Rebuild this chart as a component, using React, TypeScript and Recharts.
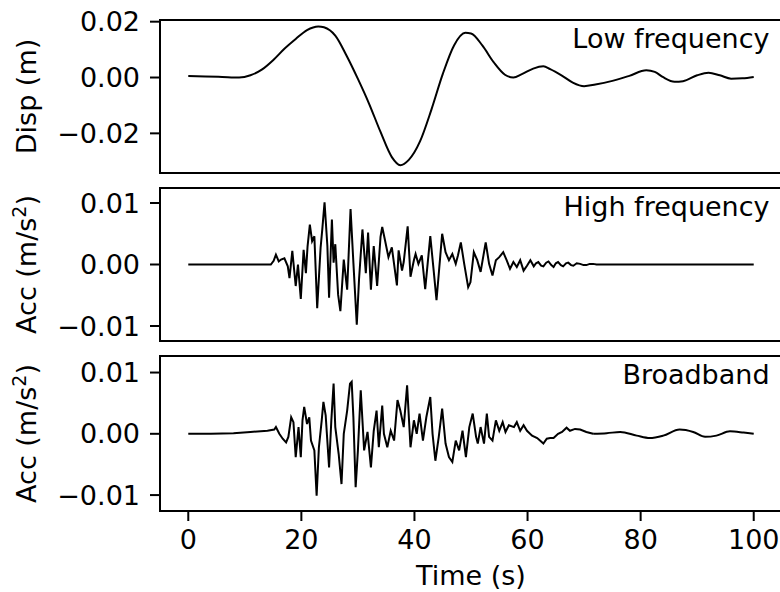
import React from 'react';
import { LineChart, Line, XAxis, YAxis, ReferenceArea, Label } from 'recharts';

const FONT = '"DejaVu Sans", "Liberation Sans", sans-serif';

// ---- data ----
const timeTicks = [0, 20, 40, 60, 80, 100];
const dispTicks = [-0.02, 0, 0.02];
const accTicks = [-0.01, 0, 0.01];
const panelLabels = ['Low frequency', 'High frequency', 'Broadband'];

const dispTime = [0, 3, 6, 9, 11, 13, 15, 17, 19, 21, 23, 24, 26, 28, 30, 32, 34, 36, 37.5, 39, 41, 43, 45, 47, 49, 50, 52, 54, 56, 57.5, 59, 61, 62.8, 64, 66, 68, 70, 72, 75, 78, 81, 82.5, 84, 86, 87.5, 90, 92, 94, 96, 98, 100];
const dispValue = [0.0005, 0.0004, 0.0002, 0.0, 0.0008, 0.0028, 0.0062, 0.0103, 0.0138, 0.0170, 0.0183, 0.0180, 0.0150, 0.0078, -0.0005, -0.0095, -0.0195, -0.0285, -0.0314, -0.0295, -0.0228, -0.0115, 0.0012, 0.0115, 0.0160, 0.0158, 0.0115, 0.0055, 0.0010, 0.0, 0.0012, 0.0032, 0.0040, 0.0030, 0.0008, -0.0018, -0.0031, -0.0025, -0.0012, 0.0006, 0.0026, 0.0020, 0.0001, -0.0015, -0.0013, 0.0008, 0.0017, 0.0008, -0.0004, -0.0003, 0.0002];

const hfTime = [0, 14.6, 15.1, 15.5, 16.0, 16.4, 17.0, 17.6, 17.9, 18.4, 19.0, 19.4, 19.9, 20.4, 20.8, 21.1, 21.5, 21.9, 22.3, 22.8, 23.4, 23.7, 24.1, 24.6, 24.9, 25.4, 25.7, 26.0, 26.5, 26.9, 27.5, 28.1, 28.7, 29.2, 29.8, 30.2, 30.8, 31.4, 31.8, 32.3, 32.8, 33.4, 34.0, 34.3, 34.8, 35.4, 36.0, 36.9, 37.2, 37.8, 38.1, 38.8, 39.3, 39.9, 40.2, 40.7, 41.3, 41.9, 42.8, 43.4, 43.9, 44.3, 44.9, 45.5, 46.1, 46.7, 47.3, 47.7, 48.2, 48.8, 49.5, 49.9, 50.5, 51.1, 51.7, 52.6, 53.2, 53.8, 54.4, 55.0, 55.7, 56.3, 56.9, 57.5, 58.1, 58.7, 59.3, 59.9, 60.5, 61.1, 61.5, 61.9, 62.4, 62.8, 63.3, 63.7, 64.2, 64.6, 65.0, 65.4, 65.9, 66.3, 66.8, 67.2, 67.7, 68.1, 68.7, 69.3, 69.9, 70.4, 71.0, 71.6, 72.2, 100];
const hfValue = [0, 0, 0.0006, 0.0016, 0.0005, 0.0008, 0.0010, -0.0003, -0.0022, 0.0022, -0.0035, 0.0, -0.0056, 0.0024, -0.0014, 0.0030, 0.0065, 0.0038, 0.0046, -0.0071, 0.0027, 0.0057, 0.0101, 0.0030, -0.0054, 0.0073, 0.0003, 0.0033, -0.0049, -0.0076, 0.0008, -0.0041, 0.0090, 0.0003, -0.0098, -0.0024, 0.0057, -0.0014, 0.0052, -0.0041, 0.0030, -0.0035, 0.0045, 0.0061, 0.0039, 0.0012, 0.0028, -0.0034, 0.0023, -0.0010, 0.0004, 0.0062, -0.0020, 0.0007, 0.0017, 0.0001, 0.0015, -0.0040, 0.0046, -0.0010, -0.0058, -0.0015, 0.0050, 0.0020, 0.0007, 0.0017, 0.0001, 0.0015, 0.0036, 0.0001, -0.0037, -0.0029, 0.0020, 0.0007, -0.0012, 0.0036, 0.0001, -0.0018, 0.0007, 0.0012, 0.0020, 0.0007, -0.0007, 0.0004, -0.0004, 0.0007, -0.0010, -0.0002, 0.0007, -0.0003, 0.0002, 0.0004, -0.0002, -0.0003, 0.0003, 0.0005, -0.0001, -0.0004, 0.0002, 0.0004, -0.0001, -0.0003, 0.0002, 0.0003, -0.0001, -0.0002, 0.0002, 0.0001, -0.0001, -0.0001, 0.0001, 0.0001, 0, 0];

// broadband: noisy part (drawn straight) and smooth tail (drawn curved)
const bbTime = [0, 4, 8, 11, 14, 15.2, 15.5, 16.1, 16.7, 17.3, 17.7, 18.2, 18.6, 19.0, 19.5, 19.9, 20.2, 20.5, 21.0, 21.4, 21.7, 22.3, 22.7, 23.1, 23.6, 23.9, 24.3, 24.9, 25.3, 25.7, 26.0, 26.6, 27.1, 27.5, 28.1, 28.6, 28.9, 29.2, 29.6, 30.0, 30.5, 31.1, 31.7, 32.3, 32.8, 33.3, 33.7, 34.3, 34.6, 35.2, 35.8, 36.4, 37.0, 37.5, 38.1, 38.7, 39.3, 39.9, 40.4, 40.9, 41.5, 42.1, 42.8, 43.2, 43.7, 44.3, 44.9, 45.5, 46.1, 46.7, 47.3, 47.9, 48.5, 49.1, 49.7, 50.3, 50.9, 51.2, 51.7, 52.3, 52.8, 53.2, 53.8, 54.4, 55.0, 55.6, 56.1, 56.7, 57.6, 58.1, 58.7, 59.3, 59.9, 60.8, 61.7, 62.2, 62.8, 63.4, 64.0, 64.6, 65.4, 66.1, 66.9, 67.5, 68.4, 69.3, 70.4, 71.6];
const bbValue = [0, 0.0, 0.0001, 0.0003, 0.0005, 0.0007, 0.0011, 0.0, -0.0008, -0.0014, -0.0005, 0.0027, 0.0019, -0.0038, 0.0011, -0.0038, 0.0022, 0.0044, 0.0016, 0.0027, -0.0011, -0.0027, -0.0101, -0.0022, 0.0022, 0.0052, 0.0030, -0.0055, 0.0022, 0.0082, 0.0011, -0.0033, -0.0082, 0.0, 0.0038, 0.0082, 0.0085, 0.0027, -0.0087, -0.0027, 0.0071, -0.0027, 0.0003, -0.0055, 0.0005, 0.0038, -0.0022, 0.0046, 0.0, -0.0022, 0.0005, -0.0011, 0.0055, 0.0038, 0.0011, 0.0079, -0.0022, 0.0022, 0.0, 0.0033, -0.0011, 0.0027, 0.0060, 0.0, -0.0044, -0.0005, 0.0041, -0.0016, -0.0038, -0.0046, -0.0011, -0.0027, 0.0005, -0.0038, 0.0011, 0.0033, -0.0005, -0.0016, 0.0011, -0.0016, 0.0033, -0.0005, -0.0011, 0.0022, 0.0005, 0.0019, 0.0003, 0.0014, 0.0011, 0.0019, 0.0005, 0.0014, 0.0005, -0.0003, -0.0007, -0.0011, -0.0016, -0.0008, -0.0007, -0.0007, 0.0, 0.0003, 0.0010, 0.0005, 0.0008, 0.0007, 0.0003, 0.0];
const bbTailTime = [71.6, 74.0, 76.4, 79.3, 81.6, 84.0, 86.9, 89.3, 91.4, 93.4, 95.8, 98.2, 100];
const bbTailValue = [0.0, 0.0001, 0.0003, -0.0003, -0.0007, -0.0003, 0.0007, 0.0003, -0.0005, -0.0003, 0.0004, 0.0002, 0.0];

const zip = (ts: number[], vs: number[]) => ts.map((t, i) => ({ t, v: vs[i] }));
const dispData = zip(dispTime, dispValue);
const hfData = zip(hfTime, hfValue);
const bbData = zip(bbTime, bbValue);
const bbTailData = zip(bbTailTime, bbTailValue);

const fmt = (v: number) => (v < 0 ? '\u2212' : '') + Math.abs(v).toFixed(2);

const W = 790;
const H = 592;
const FS = 27;

type Series = { data: { t: number; v: number }[]; curve: 'linear' | 'monotone' };

type PanelProps = {
  series: Series[];
  domain: [number, number];
  ticks: number[];
  top: number;
  bottom: number;
  showX: boolean;
  yLabel: 'disp' | 'acc';
  note: string;
};

const YLabelContent = (kind: 'disp' | 'acc') => (props: any) => {
  const vb = props.viewBox || {};
  const cx = (vb.x || 0) + 36;
  const cy = (vb.y || 0) + (vb.height || 0) / 2;
  return (
    <text
      x={cx}
      y={cy}
      transform={`rotate(-90, ${cx}, ${cy})`}
      textAnchor="middle"
      fontFamily={FONT}
      fontSize={FS}
      fill="#000"
    >
      {kind === 'disp' ? (
        'Disp (m)'
      ) : (
        <>
          <tspan>Acc (m/s</tspan>
          <tspan dy={-10} fontSize={19}>2</tspan>
          <tspan dy={10}>)</tspan>
        </>
      )}
    </text>
  );
};

const NoteContent = (text: string) => (props: any) => {
  const vb = props.viewBox || {};
  const x = (vb.x || 0) + (vb.width || 0) * 0.98;
  const y = (vb.y || 0) + 28;
  return (
    <text x={x} y={y} textAnchor="end" fontFamily={FONT} fontSize={FS} fill="#000">
      {text}
    </text>
  );
};

function Panel(p: PanelProps) {
  return (
    <div style={{ position: 'absolute', left: 0, top: 0 }}>
      <LineChart
        width={W}
        height={H}
        margin={{ top: p.top, right: W - 782, bottom: p.showX ? 0 : H - p.bottom, left: 0 }}
      >
        <XAxis
          dataKey="t"
          type="number"
          domain={[-5, 105]}
          ticks={timeTicks}
          hide={!p.showX}
          height={H - p.bottom}
          axisLine={false}
          tickSize={10}
          tickMargin={9}
          interval={0}
          tickLine={{ stroke: '#000', strokeWidth: 2 }}
          tick={{ fill: '#000', fontSize: FS, fontFamily: FONT }}
          allowDataOverflow
        >
          {p.showX && (
            <Label value="Time (s)" position="insideBottom" offset={7} fill="#000" fontSize={FS} fontFamily={FONT} />
          )}
        </XAxis>
        <YAxis
          type="number"
          domain={p.domain}
          ticks={p.ticks}
          width={160}
          axisLine={false}
          tickSize={10}
          tickMargin={10}
          interval={0}
          tickFormatter={fmt}
          tickLine={{ stroke: '#000', strokeWidth: 2 }}
          tick={{ fill: '#000', fontSize: FS, fontFamily: FONT }}
          allowDataOverflow
          label={{ content: YLabelContent(p.yLabel) } as any}
        />
        {p.series.map((s, i) => (
          <Line
            key={i}
            data={s.data}
            type={s.curve}
            dataKey="v"
            stroke="#000"
            strokeWidth={2}
            dot={false}
            activeDot={false}
            isAnimationActive={false}
          />
        ))}
        <ReferenceArea
          x1={-5}
          x2={105}
          y1={p.domain[0]}
          y2={p.domain[1]}
          fill="none"
          fillOpacity={0}
          stroke="#000"
          strokeWidth={2}
          ifOverflow="visible"
          label={{ content: NoteContent(p.note) } as any}
        />
      </LineChart>
    </div>
  );
}

export default function App() {
  return (
    <div
      style={{
        position: 'absolute',
        left: 0,
        top: 0,
        width: 780,
        height: 592,
        overflow: 'hidden',
        background: '#fff',
      }}
    >
      <Panel series={[{ data: dispData, curve: 'monotone' }]} domain={[-0.0342, 0.0206]} ticks={dispTicks} top={20} bottom={173} showX={false} yLabel="disp" note={panelLabels[0]} />
      <Panel series={[{ data: hfData, curve: 'linear' }]} domain={[-0.01244, 0.01244]} ticks={accTicks} top={188} bottom={341} showX={false} yLabel="acc" note={panelLabels[1]} />
      <Panel series={[{ data: bbData, curve: 'linear' }, { data: bbTailData, curve: 'monotone' }]} domain={[-0.0126, 0.0127]} ticks={accTicks} top={356} bottom={511} showX={true} yLabel="acc" note={panelLabels[2]} />
    </div>
  );
}
